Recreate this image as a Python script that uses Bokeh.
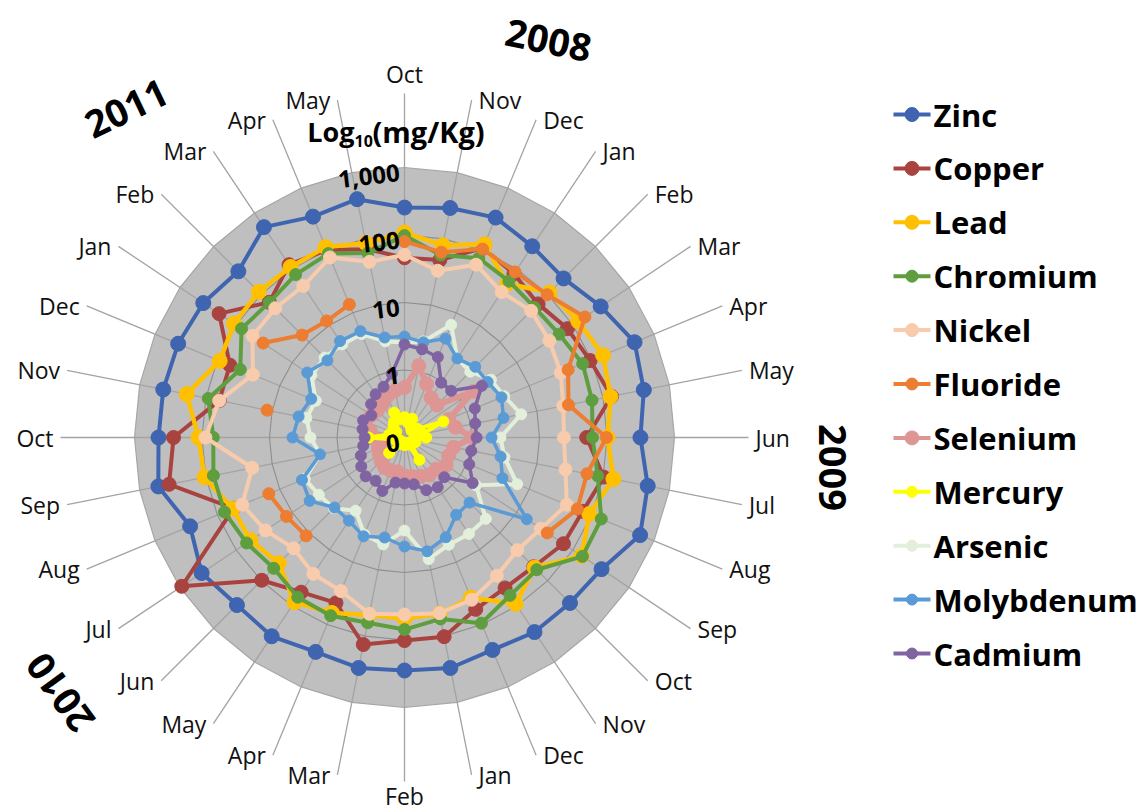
import numpy as np
from bokeh.plotting import figure
from bokeh.models import Range1d, ColumnDataSource
from bokeh.core.properties import value
from bokeh.embed import file_html
from bokeh.resources import INLINE

# ---------------- data ----------------
months = ["Oct", "Nov", "Dec", "Jan", "Feb", "Mar", "Apr", "May", "Jun", "Jul", "Aug", "Sep",
          "Oct", "Nov", "Dec", "Jan", "Feb", "Mar", "Apr", "May", "Jun", "Jul", "Aug", "Sep",
          "Oct", "Nov", "Dec", "Jan", "Feb", "Mar", "Apr", "May"]
years = ["2008", "2009", "2010", "2011"]
tick_values = [0.1, 1, 10, 100, 1000]
tick_labels = ["0", "1", "10", "100", "1,000"]
nan = float("nan")

zinc = [255, 293, 336, 255, 215, 313, 489, 412, 313, 472, 600, 324, 293, 293, 255, 303,
        283, 303, 274, 348, 324, 412, 274, 523, 441, 441, 426, 385, 303, 560, 348, 398]
copper = [46, 48, 109, 83, 63, 80, 95, 134, 50, 102, 72, 68, 51, 48, 57, 102,
          102, 134, 45, 57, 98, 930, 55, 360, 264, 63, 63, 201, 68, 120, 102, 70]
lead = [109, 80, 125, 55, 109, 125, 153, 129, 102, 143, 92, 143, 53, 92, 37, 46,
        48, 48, 65, 86, 43, 55, 57, 105, 113, 195, 92, 109, 113, 109, 113, 86]
chromium = [98, 57, 75, 61, 53, 57, 72, 68, 61, 83, 143, 148, 59, 65, 95, 55,
            70, 63, 72, 70, 55, 65, 77, 77, 68, 92, 43, 80, 68, 80, 89, 61]
nickel = [51, 33, 59, 39, 45, 38, 32, 25, 23, 27, 40, 27, 23, 29, 40, 45,
          42, 46, 29, 27, 21, 30, 40, 20, 89, 63, 27, 51, 51, 50, 77, 45]
fluoride = [80, 63, 105, 89, 98, 164, 42, 30, 98, 57, 59, 35, nan, nan, nan, nan,
            nan, nan, nan, nan, 11.5, 12.7, 15, nan, nan, 11.9, nan, 33, 14, 11.9, 13.6, nan]
selenium = [0.55, 1.21, 0.72, 0.51, 0.48, 1.70, 0.51, 0.59, 1.02, 0.55, 0.51, 0.55, 0.46, 0.46, 0.42, 0.39,
            0.37, 0.33, 0.34, 0.34, 0.31, 0.28, 0.26, 0.23, 0.28, 0.33, 0.43, 0.39, 0.37, 0.39, 0.46, 0.51]
mercury = [0.20, 0.17, 0.20, 0.15, 0.14, 0.17, 0.42, 0.19, 0.21, 0.14, 0.15, 0.13, 0.14, 0.25, 0.13, 0.12,
           0.13, 0.12, 0.12, 0.13, 0.21, 0.12, 0.13, 0.14, 0.34, 0.17, 0.15, 0.14, 0.17, 0.19, 0.25, 0.19]
arsenic = [2.55, 2.83, 6.41, 2.55, 2.39, 3.47, 3.98, 5.80, 2.64, 3.24, 6.41, 1.88, 5.06, 5.23, 5.23, 6.87,
           2.39, 4.12, 3.59, 2.01, 3.03, 3.36, 3.98, 1.88, 2.47, 3.03, 2.64, 4.56, 4.72, 4.56, 4.56, 2.83]
molybdenum = [3.13, 2.74, 3.85, 2.55, 3.03, 3.03, 3.59, 3.13, 1.95, 2.83, 3.72, 15.1, 2.31, 2.39, 3.98, 5.23,
              4.12, 3.24, 3.85, 3.03, 2.93, 4.89, 4.41, 1.88, 4.56, 3.98, 3.13, 5.41, 4.12, 5.23, 5.06, 3.24]
cadmium = [2.39, 2.15, 1.95, 0.95, 0.95, 2.39, 1.34, 1.17, 1.17, 1.02, 1.09, 1.64, 0.68, 0.77, 0.70, 0.51,
           0.48, 0.48, 0.72, 0.59, 0.65, 0.59, 0.50, 0.42, 0.39, 0.43, 0.46, 0.39, 0.50, 0.59, 0.65, 0.92]

series_names = ["Zinc", "Copper", "Lead", "Chromium", "Nickel", "Fluoride", "Selenium",
                "Mercury", "Arsenic", "Molybdenum", "Cadmium"]
series_values = [zinc, copper, lead, chromium, nickel, fluoride, selenium,
                 mercury, arsenic, molybdenum, cadmium]
series_colors = ["#3F65B0", "#A9433F", "#FFC000", "#5E9E3E", "#F8CBAD", "#ED7D31", "#DE9694",
                 "#FFFF00", "#E2EFDA", "#5B9BD5", "#8064A2"]
line_widths = [4, 4, 4.5, 4, 4, 4, 6, 4, 4, 3.5, 3.5]
marker_sizes = [15, 14, 15, 12, 13, 12, 14, 11, 11, 11, 11]

# ---------------- layout (page pixels) ----------------
W, H = 1141, 812
OFF = 0                # where the canvas sits on the captured page
PX = 67.5              # pixels per decade on the radial axis
CX, CY = 404.0, 437.0  # page position of the pole
LOGMIN = -1.0          # 0.1 at the centre
RMAX = 4.0             # decades to 1000

def to_data(X, Y):
    return (X - CX) / PX, (CY - Y) / PX

x0, _ = to_data(OFF, 0)
x1, _ = to_data(OFF + W, 0)
_, yt = to_data(0, OFF)
_, yb = to_data(0, OFF + H)

p = figure(width=W, height=H, x_range=Range1d(x0, x1), y_range=Range1d(yb, yt),
           x_axis_type=None, y_axis_type=None, toolbar_location=None,
           output_backend="svg", min_border=0, outline_line_color=None,
           background_fill_color="white", border_fill_color="white")

N = len(months)
ang = np.arange(N) * 2 * np.pi / N
sx, cy_ = np.sin(ang), np.cos(ang)

def radius(v):
    v = np.asarray(v, dtype=float)
    r = np.log10(np.where(v > 0, v, np.nan)) - LOGMIN
    return np.clip(r, 0, RMAX)

# plot area
ring_x = np.append(sx, sx[0])
ring_y = np.append(cy_, cy_[0])
p.patch(RMAX * ring_x, RMAX * ring_y, fill_color="#BFBFBF", line_color="#A6A6A6", line_width=1.2)

# spokes
RS = 344 / PX
p.segment(np.zeros(N), np.zeros(N), RS * sx, RS * cy_, line_color="#A3A3A3", line_width=1.3)

# rings
for tv in tick_values[1:-1]:
    rr = np.log10(tv) - LOGMIN
    p.line(rr * ring_x, rr * ring_y, line_color="#8E8E8E", line_width=1.1)

# series
for name, vals, col, lw, ms in zip(series_names, series_values, series_colors, line_widths, marker_sizes):
    r = radius(vals)
    xs = r * sx
    ys = r * cy_
    p.line(np.append(xs, xs[0]), np.append(ys, ys[0]), line_color=col, line_width=lw)
    ok = ~np.isnan(xs)
    p.scatter(xs[ok], ys[ok], size=ms, fill_color=col, line_color=col)

# month labels: placed beyond the spoke ends, Excel style
ex, ey = RS * sx, RS * cy_
gap = 7 / PX
lx, ly, la = [], [], []
for k in range(N):
    if abs(sx[k]) < 0.05:
        lx.append(ex[k])
        ly.append(ey[k] + (20 / PX if cy_[k] > 0 else -14 / PX))
        la.append("center")
    elif sx[k] > 0:
        lx.append(ex[k] + gap); ly.append(ey[k]); la.append("left")
    else:
        lx.append(ex[k] - gap); ly.append(ey[k]); la.append("right")
msrc = ColumnDataSource(dict(x=lx, y=ly, t=months, a=la))
p.text("x", "y", text="t", text_align="a", source=msrc, text_baseline="middle",
       text_font=value("Open Sans"), text_font_size="23px", text_color="#111111")

# radial tick labels
tr = np.array([np.log10(t) - LOGMIN for t in tick_values])
p.text(np.full(len(tr), -5 / PX), tr - 5 / PX, text=tick_labels, angle=0.12,
       text_align="right", text_baseline="middle", text_font=value("Open Sans"),
       text_font_style="bold", text_font_size="24px", text_color="black")

# axis title  Log10(mg/Kg)
tx, ty = to_data(354, 131)
p.text([tx], [ty], text=["Log"], text_align="right", text_baseline="middle",
       text_font=value("Open Sans"), text_font_style="bold", text_font_size="27px")
sx2, sy2 = to_data(354, 140)
p.text([sx2], [sy2], text=["10"], text_align="left", text_baseline="middle",
       text_font=value("Open Sans"), text_font_style="bold", text_font_size="16px")
px3, py3 = to_data(372, 131)
p.text([px3], [py3], text=["(mg/Kg)"], text_align="left", text_baseline="middle",
       text_font=value("Open Sans"), text_font_style="bold", text_font_size="29px")

# year labels
ypos = [to_data(548, 40), to_data(832, 467), to_data(60, 692), to_data(126, 108)]
yang = [-0.2, -np.pi / 2, 2.2, 0.45]
ysrc = ColumnDataSource(dict(x=[q[0] for q in ypos], y=[q[1] for q in ypos], t=years, a=yang))
p.text("x", "y", text="t", angle="a", source=ysrc, text_align="center", text_baseline="middle",
       text_font=value("Open Sans"), text_font_style="bold", text_font_size="38px")

# legend
for i, (name, col, ms) in enumerate(zip(series_names, series_colors, marker_sizes)):
    Yp = 114 + i * 53.9
    a0 = to_data(893, Yp)
    a1 = to_data(930, Yp)
    am = to_data(911.5, Yp)
    at = to_data(933, Yp)
    p.line([a0[0], a1[0]], [a0[1], a1[1]], line_color=col, line_width=4)
    p.scatter([am[0]], [am[1]], size=min(ms, 14), fill_color=col, line_color=col)
    p.text([at[0]], [at[1]], text=[name], text_align="left", text_baseline="middle",
           text_font=value("Open Sans"), text_font_style="bold", text_font_size="31px")

open("out.html", "w").write(file_html(p, INLINE))
